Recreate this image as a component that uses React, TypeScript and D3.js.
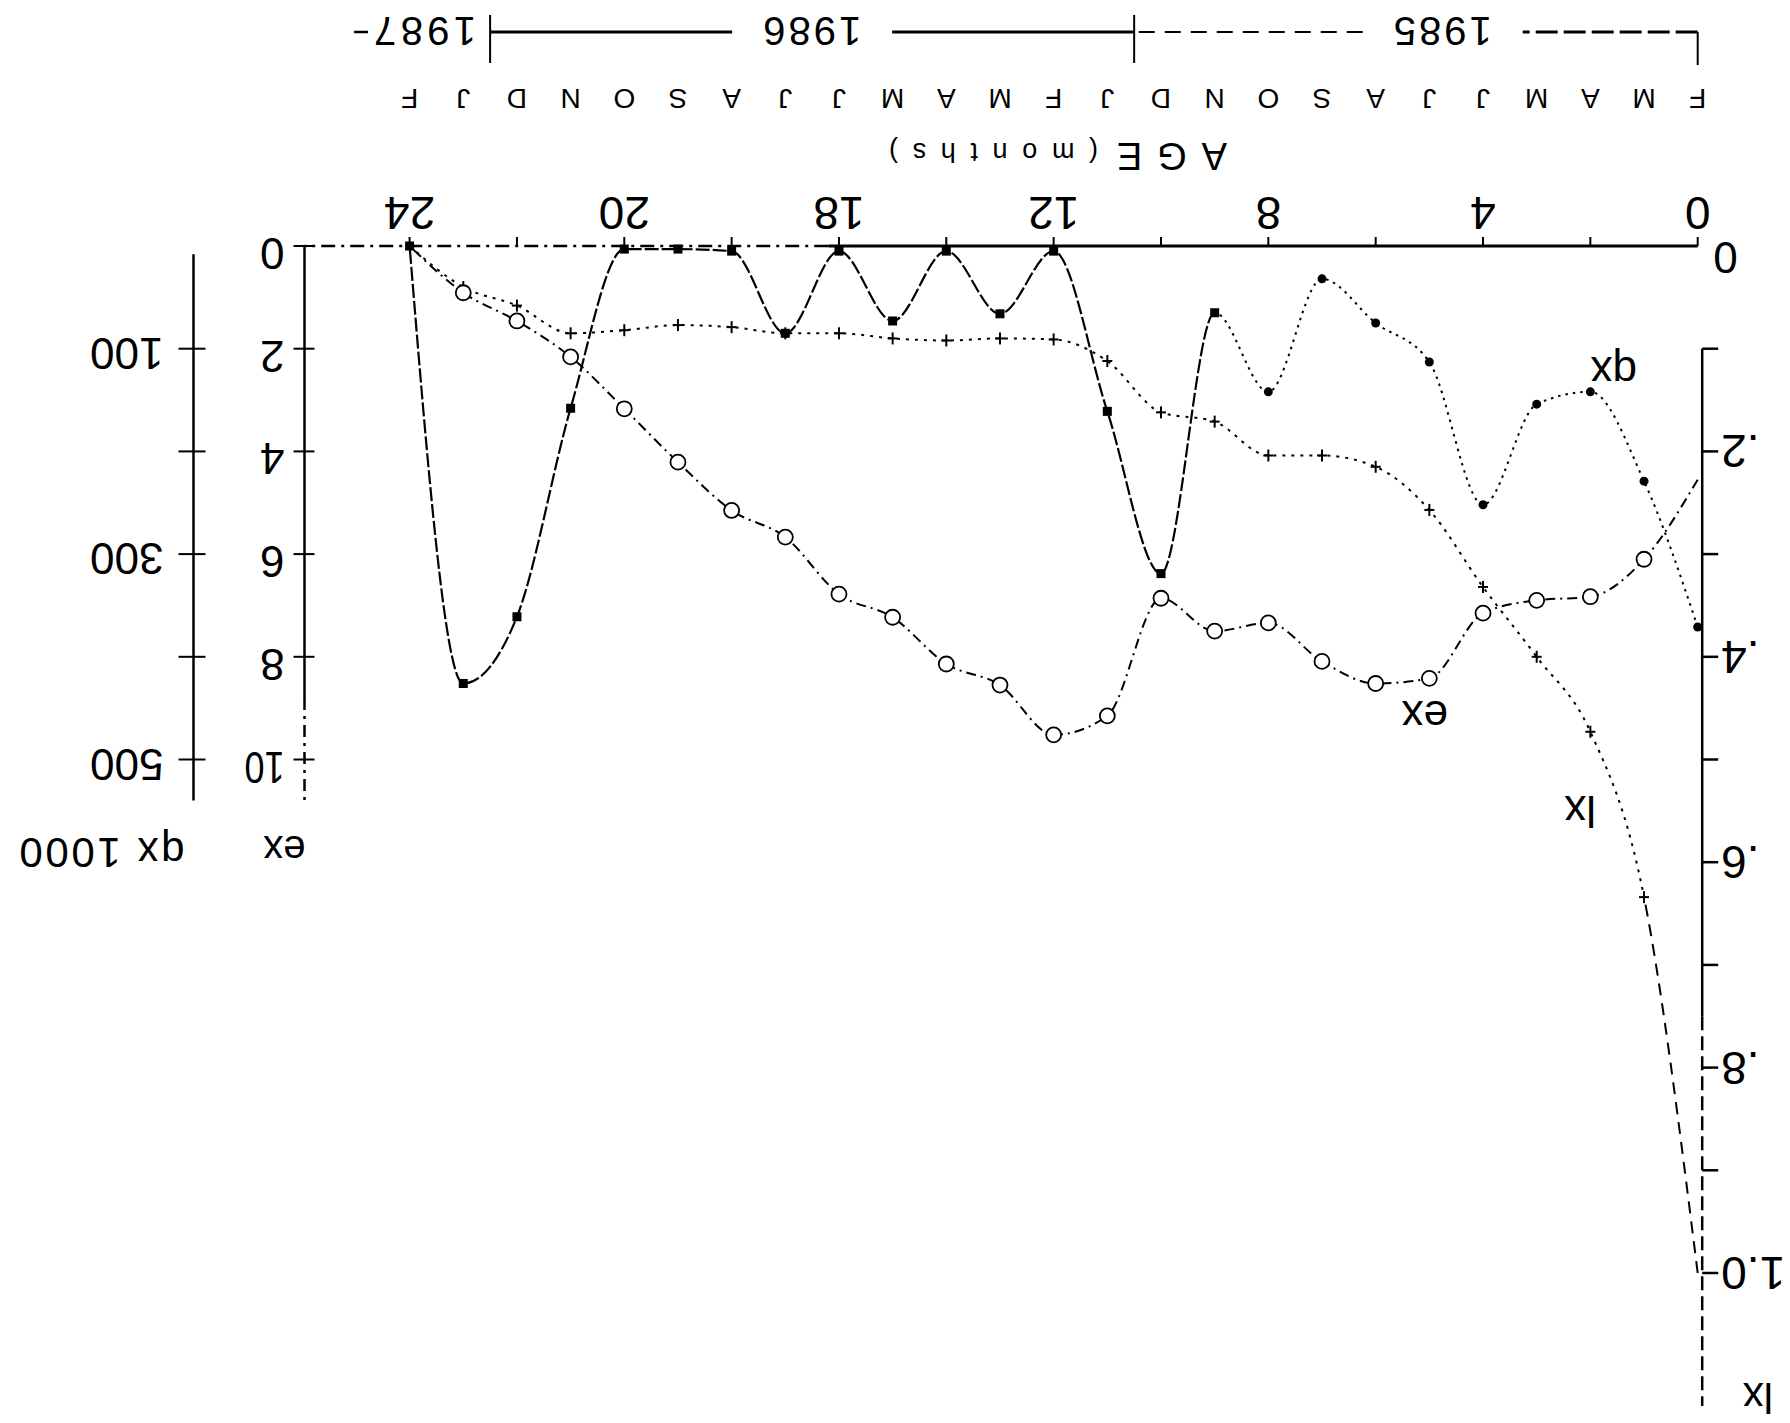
import React from "react";
import * as d3 from "d3";

// age classes (months) and the calendar month under each one
const ages = [0, 1, 2, 3, 4, 5, 6, 7, 8, 9, 10, 11, 12, 13, 14, 15, 16, 17, 18, 19, 20, 21, 22, 23, 24];
const monthLabels = ["F", "M", "A", "M", "J", "J", "A", "S", "O", "N", "D", "J", "F", "M", "A", "M", "J", "J", "A", "S", "O", "N", "D", "J", "F"];

const yearLabels = ["1985", "1986", "1987"];
const yearStarts = [-1, 10.5, 22.5];
const yearEnds = [10.5, 22.5, 24.5];

// life table columns
const lxValues = [1.0, 0.634, 0.473, 0.4, 0.332, 0.257, 0.215, 0.204, 0.204, 0.171, 0.162, 0.112, 0.091, 0.09, 0.092, 0.09, 0.085, 0.085, 0.079, 0.077, 0.082, 0.085, 0.058, 0.04, 0];
const exValues = [4.55, 6.1, 6.83, 6.9, 7.15, 8.42, 8.52, 8.09, 7.34, 7.5, 6.86, 9.15, 9.52, 8.55, 8.14, 7.23, 6.78, 5.67, 5.15, 4.21, 3.17, 2.16, 1.46, 0.91, 0];
const qxValues = [371, 229, 142, 154, 252, 113, 75, 32, 142, 65, 319, 161, 5, 66, 5, 73, 5, 85, 5, 3, 3, 158, 361, 426, 0];

const ageTicks = [0, 4, 8, 12, 16, 20, 24];
const ageTickLabels = ["0", "4", "8", "12", "18", "20", "24"];
const ageMinorTicks = [0, 2, 4, 6, 8, 10, 12, 14, 16, 18, 20, 22, 24];
const exTicks = [0, 2, 4, 6, 8, 10];
const qxTicks = [100, 200, 300, 400, 500];
const qxTickLabels = ["100", "", "300", "", "500"];
const lxTicks = [0.1, 0.2, 0.3, 0.4, 0.5, 0.6, 0.7, 0.8, 0.9, 1.0];
const lxLabelValues = [0.2, 0.4, 0.6, 0.8, 1.0];
const lxLabelTexts = [".2", ".4", ".6", ".8", "1.0"];

const W = 1790;
const H = 1423;
const FONT = "'Liberation Sans', Arial, Helvetica, sans-serif";

export default function App() {
  const x = d3.scaleLinear().domain([0, 24]).range([92.3, 1380.4]);
  const yEx = d3.scaleLinear().domain([0, 10]).range([1177, 663.5]);
  const yQx = d3.scaleLinear().domain([0, 500]).range([1177, 663.5]);
  const yLx = d3.scaleLinear().domain([0, 1]).range([1177, 150]);

  const base = yEx(0);
  const exAxisX = 1485.5;
  const qxAxisX = 1596.5;
  const lxAxisX = x(0) - 4.5;
  const barY = 1391;

  const curve = (vals: number[], y: d3.ScaleLinear<number, number>) =>
    d3
      .line<number>()
      .x((_, i) => x(ages[i]))
      .y((v) => y(v))
      .curve(d3.curveMonotoneX)(vals) || "";

  const qxPath = curve(qxValues, yQx);
  const exPath = curve(exValues, yEx);
  const lxPath = curve(lxValues, yLx);

  const ink = "#000";

  return (
    <svg
      width={W}
      height={H}
      style={{ position: "absolute", left: 0, top: 0, background: "#fff" }}
      fontFamily={FONT}
    >
      <rect width={W} height={H} fill="#fff" />
      {/* the scanned figure is upside down */}
      <g transform={`rotate(180 ${W / 2} ${H / 2})`}>
        <defs>
          <clipPath id="early">
            <rect x={0} y={0} width={x(9)} height={H} />
          </clipPath>
          <clipPath id="late">
            <rect x={x(9)} y={0} width={W} height={H} />
          </clipPath>
          <clipPath id="first">
            <rect x={0} y={0} width={x(1)} height={H} />
          </clipPath>
          <clipPath id="rest">
            <rect x={x(1)} y={0} width={W} height={H} />
          </clipPath>
        </defs>

        {/* age axis */}
        <line x1={x(0)} x2={x(16.2)} y1={base} y2={base} stroke={ink} strokeWidth={3} />
        <line x1={x(16.2)} x2={exAxisX} y1={base} y2={base} stroke={ink} strokeWidth={2.5} strokeDasharray="14 6 3 6" />
        {ageMinorTicks.map((a) => (
          <line key={"mt" + a} x1={x(a)} x2={x(a)} y1={base} y2={base + 9} stroke={ink} strokeWidth={2} />
        ))}
        {ageTicks.map((a, i) => (
          <text key={"at" + a} x={x(a)} y={1226} fontSize={46} textAnchor="middle" fill={ink}>
            {ageTickLabels[i]}
          </text>
        ))}
        <text x={563} y={1280} fontSize={38} textLength={110} lengthAdjust="spacing" fill={ink}>
          AGE
        </text>
        <text x={692} y={1280} fontSize={27} textLength={209} lengthAdjust="spacing" fill={ink}>
          (months)
        </text>
        {ages.map((a, i) => (
          <text key={"m" + a} x={x(a)} y={1334} fontSize={28} textAnchor="middle" fill={ink}>
            {monthLabels[i]}
          </text>
        ))}

        {/* calendar years bar */}
        <line x1={x(0)} x2={x(0)} y1={barY - 33} y2={barY} stroke={ink} strokeWidth={2} />
        {yearLabels.map((label, i) => {
          const from = x(Math.max(yearStarts[i], 0));
          const to = x(yearEnds[i]);
          if (i < 2) {
            const c = x((yearStarts[i] + yearEnds[i]) / 2);
            return (
              <g key={label}>
                <line x1={from} x2={c - 80} y1={barY} y2={barY} stroke={ink} strokeWidth={3} strokeDasharray={i === 0 ? "22 6" : undefined} />
                <line x1={c + 80} x2={to} y1={barY} y2={barY} stroke={ink} strokeWidth={i === 0 ? 2 : 3} strokeDasharray={i === 0 ? "16 10" : undefined} />
                <text x={c} y={barY + 15} fontSize={40} textAnchor="middle" textLength={98} lengthAdjust="spacing" fill={ink}>
                  {label}
                </text>
                <line x1={to} x2={to} y1={barY - 31} y2={barY + 17} stroke={ink} strokeWidth={2} />
              </g>
            );
          }
          return (
            <g key={label}>
              <text x={from + 14} y={barY + 15} fontSize={40} textLength={102} lengthAdjust="spacing" fill={ink}>
                {label}
              </text>
              <line x1={from + 122} x2={from + 136} y1={barY} y2={barY} stroke={ink} strokeWidth={2.5} />
            </g>
          );
        })}

        {/* lx axis (left) */}
        <line x1={lxAxisX} x2={lxAxisX} y1={yLx(0.1)} y2={yLx(0.75)} stroke={ink} strokeWidth={2.5} />
        <line x1={lxAxisX} x2={lxAxisX} y1={yLx(0.75)} y2={17} stroke={ink} strokeWidth={2.5} strokeDasharray="14 6" />
        {lxTicks.map((v) => (
          <line key={"lt" + v} x1={lxAxisX} x2={lxAxisX - 16} y1={yLx(v)} y2={yLx(v)} stroke={ink} strokeWidth={2.5} />
        ))}
        {lxLabelValues.map((v, i) => (
          <text key={"ll" + v} x={lxAxisX - 19} y={yLx(v) + 16} fontSize={46} textAnchor="end" fill={ink}>
            {lxLabelTexts[i]}
          </text>
        ))}
        <text x={lxAxisX - 11} y={yLx(0) + 4} fontSize={44} textAnchor="end" fill={ink}>
          0
        </text>
        <text x={17} y={40} fontSize={42} fill={ink}>
          lx
        </text>

        {/* ex axis (right, inner) */}
        <line x1={exAxisX} x2={exAxisX} y1={yEx(0)} y2={yEx(8.8)} stroke={ink} strokeWidth={2.5} />
        <line x1={exAxisX} x2={exAxisX} y1={yEx(8.8)} y2={yEx(10) - 44} stroke={ink} strokeWidth={2.5} strokeDasharray="12 6 3 6" />
        {exTicks.map((v) => (
          <g key={"et" + v}>
            <line x1={exAxisX - 10} x2={exAxisX + 11} y1={yEx(v)} y2={yEx(v)} stroke={ink} strokeWidth={2} />
            <text x={exAxisX + 20} y={yEx(v) + 8} fontSize={44} fill={ink} textLength={v === 10 ? 40 : undefined} lengthAdjust="spacingAndGlyphs">
              {v}
            </text>
          </g>
        ))}
        <text x={exAxisX - 1} y={587} fontSize={40} fill={ink}>
          ex
        </text>

        {/* qx axis (right, outer) */}
        <line x1={qxAxisX} x2={qxAxisX} y1={yQx(8)} y2={yQx(540)} stroke={ink} strokeWidth={2.5} />
        {qxTicks.map((v, i) => (
          <g key={"qt" + v}>
            <line x1={qxAxisX - 12} x2={qxAxisX + 15} y1={yQx(v)} y2={yQx(v)} stroke={ink} strokeWidth={2} />
            <text x={qxAxisX + 30} y={yQx(v) + 11} fontSize={44} fill={ink}>
              {qxTickLabels[i]}
            </text>
          </g>
        ))}
        <text x={qxAxisX + 9} y={585} fontSize={42} textLength={165} lengthAdjust="spacing" fill={ink}>
          qx 1000
        </text>

        {/* lx series */}
        <path d={lxPath} fill="none" stroke={ink} strokeWidth={2} strokeDasharray="12 8" clipPath="url(#first)" />
        <path d={lxPath} fill="none" stroke={ink} strokeWidth={2} strokeDasharray="3 6" clipPath="url(#rest)" />
        {ages.slice(1, 24).map((a, i) => {
          const cx = x(a);
          const cy = yLx(lxValues[i + 1]);
          return (
            <g key={"lp" + a} stroke={ink} strokeWidth={2}>
              <line x1={cx - 5} x2={cx + 5} y1={cy} y2={cy} />
              <line x1={cx} x2={cx} y1={cy - 6} y2={cy + 6} />
            </g>
          );
        })}

        {/* ex series */}
        <path d={exPath} fill="none" stroke={ink} strokeWidth={2} strokeDasharray="10 5 2 5" />
        {ages.slice(1, 24).map((a, i) => (
          <circle key={"ep" + a} cx={x(a)} cy={yEx(exValues[i + 1])} r={7.5} fill="#fff" stroke={ink} strokeWidth={1.8} />
        ))}

        {/* qx series */}
        <path d={qxPath} fill="none" stroke={ink} strokeWidth={2} strokeDasharray="2.5 5" clipPath="url(#early)" />
        <path d={qxPath} fill="none" stroke={ink} strokeWidth={2.2} strokeDasharray="14 3" clipPath="url(#late)" />
        {ages.map((a, i) =>
          a >= 9 ? (
            <rect key={"qp" + a} x={x(a) - 4.5} y={yQx(qxValues[i]) - 4.5} width={9} height={9} fill={ink} />
          ) : (
            <circle key={"qp" + a} cx={x(a)} cy={yQx(qxValues[i])} r={4.5} fill={ink} />
          )
        )}

        {/* series labels */}
        <text x={153} y={1066} fontSize={44} fill={ink}>
          qx
        </text>
        <text x={342} y={722} fontSize={44} fill={ink}>
          ex
        </text>
        <text x={194} y={627} fontSize={44} fill={ink}>
          lx
        </text>
      </g>
    </svg>
  );
}
